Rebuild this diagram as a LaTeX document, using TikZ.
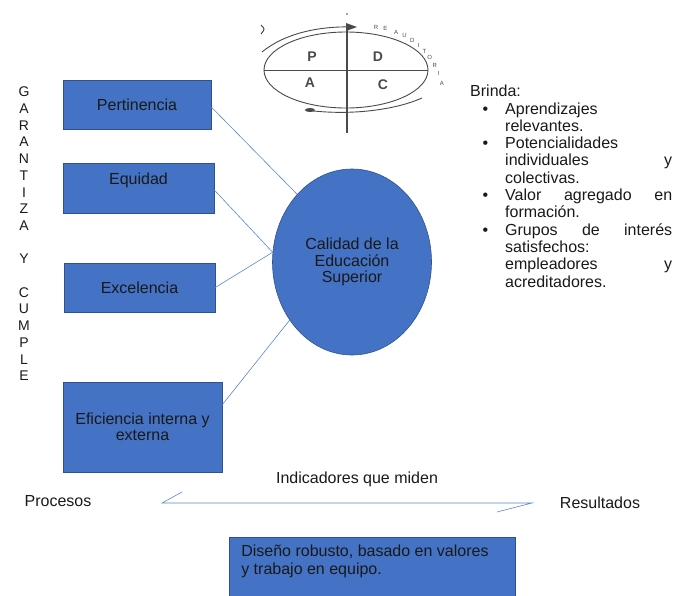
\documentclass[tikz,border=0pt]{standalone}
\usepackage{fontspec}
\setmainfont{Liberation Sans}
\usepackage{enumitem}
\usetikzlibrary{shapes.geometric}
\definecolor{boxblue}{HTML}{4472C4}
\definecolor{boxedge}{HTML}{2F528F}
\definecolor{linkblue}{HTML}{5B86D0}
\definecolor{pdcagray}{HTML}{4A4A4A}
\newcommand{\txt}{\fontsize{16}{17.3}\selectfont}
\tikzset{
  qbox/.style={draw=boxedge, fill=boxblue, line width=0.6pt, rectangle, inner sep=3pt, text=black!90},
  link/.style={draw=linkblue, line width=0.6pt},
  plain/.style={inner sep=0pt, text=black!90},
  pdca/.style={draw=pdcagray, line width=0.9pt},
  pdcaletter/.style={inner sep=0pt, text=pdcagray, font=\fontsize{14}{14}\selectfont\bfseries},
  arcletter/.style={inner sep=0pt, text=pdcagray, font=\fontsize{6}{6}\selectfont},
}
\begin{document}
\begin{tikzpicture}[x=1pt, y=-1pt, font=\txt]
\useasboundingbox (0,0) rectangle (677,595);

\foreach \ch/\row in {G/0,A/1,R/2,A/3,N/4,T/5,I/6,Z/7,A/8,Y/10,C/12,U/13,M/14,P/15,L/16,E/17}
  \node[plain, font=\fontsize{14}{14}\selectfont] (gar\row) at (24,92+16.7*\row) {\ch};

\draw[pdca] (346,70) ellipse [x radius=82pt, y radius=38pt];
\draw[pdca] (264,70) -- (428,70);
\draw[pdca, line width=1.3pt] (347,28) -- (347,133);
\draw[pdca] (262,52) .. controls (285,33) and (320,26) .. (352,27);
\fill[pdcagray] (346,23) -- (357,27) -- (346,31) -- cycle;
\path (376,27) .. controls (408,31) and (434,52) .. (442,84)
  \foreach \ch/\p [count=\k] in {R/0,E/0.1,A/0.22,U/0.32,D/0.42,I/0.51,T/0.6,O/0.69,R/0.79,I/0.89,A/0.99}
    {node[arcletter, pos=\p] (au\k) {\ch}};
\draw[pdca] (305,110) .. controls (350,116) and (395,110) .. (422,98);
\fill[pdcagray] (310,110) ellipse [x radius=5pt, y radius=2pt];
\fill[pdcagray] (347,14) circle [radius=0.8pt];
\draw[pdca, line width=1pt] (261,25) .. controls (265,29) .. (261,34);
\node[pdcaletter] (pp) at (312,57) {P};
\node[pdcaletter] (pd) at (378,57) {D};
\node[pdcaletter] (pa) at (310,83) {A};
\node[pdcaletter] (pc) at (383,85) {C};

\node[qbox, minimum width=148pt, minimum height=49pt] (per) at (137,104.5) {Pertinencia};
\node[qbox, minimum width=151pt, minimum height=50pt, text height=11pt, text depth=18pt, inner ysep=10.5pt] (equ) at (138.5,188) {Equidad};
\node[qbox, minimum width=151pt, minimum height=49pt] (exc) at (139.5,287.5) {Excelencia};
\node[qbox, minimum width=159pt, minimum height=90pt, align=center, font=\fontsize{16}{15.5}\selectfont] (efi) at (142.5,427) {Eficiencia interna y\\externa};
\node[qbox, ellipse, minimum width=159pt, minimum height=186pt, align=center, font=\fontsize{16}{16.5}\selectfont] (cal) at (352,262) {Calidad de la\\Educación\\Superior};

\draw[link] ([yshift=-2.5pt]per.east) -- (cal.129);
\draw[link] ([yshift=-2pt]equ.east) -- (cal.173);
\draw[link] (exc.east) -- (cal.173);
\draw[link] ([yshift=-23pt]efi.north east) -- (cal.223);

\node[plain, anchor=north west, text width=202pt, align=justify] (bri) at (470,85) {%
  \hyphenpenalty=10000 \exhyphenpenalty=10000 \hbadness=10000
  Brinda:
  \begin{itemize}[leftmargin=35pt, labelsep=17pt, itemsep=0pt, topsep=0pt, parsep=0pt, partopsep=0pt]
    \item Aprendizajes\linebreak relevantes.
    \item Potencialidades\linebreak individuales y\linebreak colectivas.
    \item Valor agregado en\linebreak formación.
    \item Grupos de interés\linebreak satisfechos:\linebreak empleadores y\linebreak acreditadores.
  \end{itemize}};

\node[plain] (ind) at (357,479) {Indicadores que miden};
\node[plain] (pro) at (58,501) {Procesos};
\node[plain] (res) at (600,503) {Resultados};
\coordinate (lt) at (182,492);
\coordinate (la) at (162,503);
\coordinate (ra) at (532,503);
\coordinate (rt) at (497,512);
\draw[link] (lt) -- (la) -- (ra) -- (rt);

\node[qbox, anchor=north west, inner xsep=12pt, inner ysep=8pt, font=\fontsize{16}{18}\selectfont] (dis) at (229,537)
  {\parbox[t][46pt][t]{262pt}{Diseño robusto, basado en valores\\y trabajo en equipo.}};
\end{tikzpicture}
\end{document}
